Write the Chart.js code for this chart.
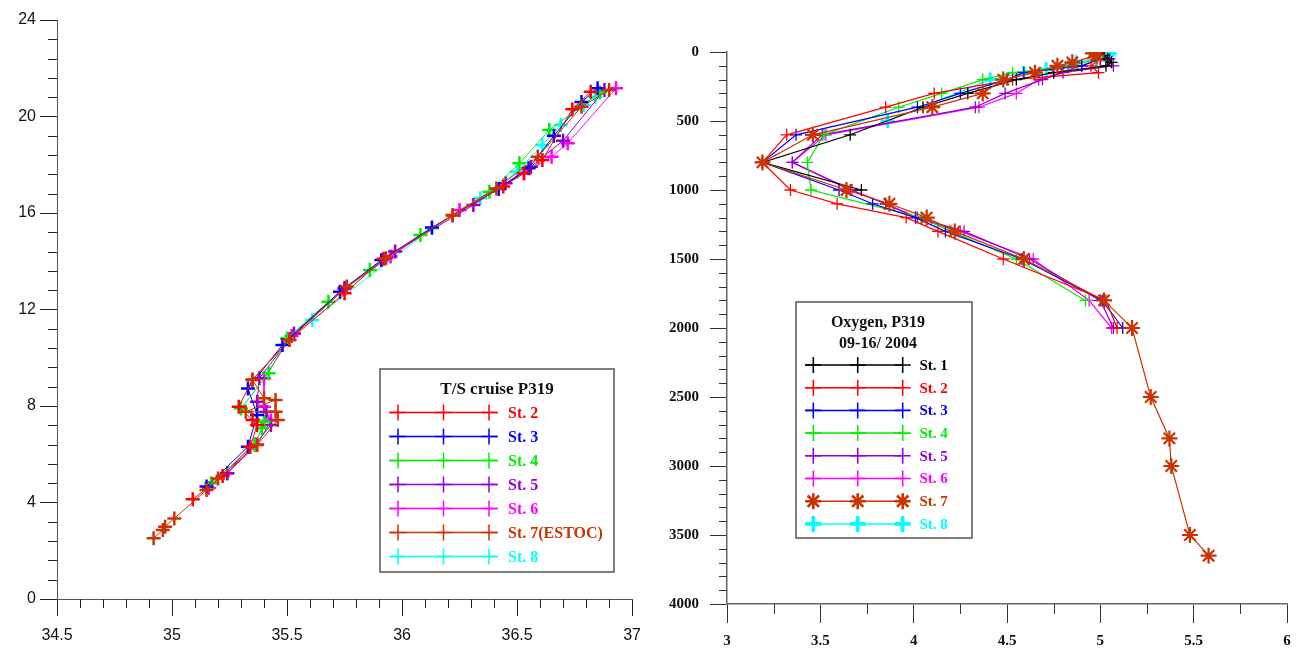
<!DOCTYPE html>
<html>
<head>
<meta charset="utf-8">
<script src="https://cdn.jsdelivr.net/npm/chart.js@4.4.1/dist/chart.umd.min.js"></script>
<style>
    html, body { margin: 0; padding: 0; background: #fff; }
    #painel { position: relative; width: 1302px; height: 648px; }
    .quadro { position: absolute; top: 0; width: 651px; height: 648px; }
    #quadro-ts { left: 0; }
    #quadro-oxi { left: 651px; }
</style>
</head>
<body>
<div id="painel">
    <div class="quadro" id="quadro-ts"><canvas id="grafico-ts"></canvas></div>
    <div class="quadro" id="quadro-oxi"><canvas id="grafico-oxi"></canvas></div>
</div>
<script>
// ---- T/S, cruzeiro P319: salinidade (x) e temperatura (y) por estacao ----
const salEst2  = [36.82, 36.74, 36.61, 36.53, 36.44, 36.22, 35.92, 35.75, 35.51, 35.35, 35.29, 35.35, 35.37, 35.34, 35.22, 35.09];
const tempEst2 = [21.03, 20.30, 18.20, 17.65, 17.10, 15.90, 14.10, 12.67, 10.74, 9.10, 7.97, 7.42, 7.21, 6.30, 5.10, 4.13];
const salEst3  = [36.85, 36.78, 36.66, 36.55, 36.42, 36.13, 35.91, 35.73, 35.48, 35.33, 35.37, 35.33, 35.15];
const tempEst3 = [21.17, 20.60, 19.20, 17.85, 17.00, 15.40, 14.05, 12.74, 10.53, 8.73, 7.63, 6.31, 4.66];
const salEst4  = [36.86, 36.64, 36.51, 36.38, 36.08, 35.86, 35.68, 35.50, 35.42, 35.30, 35.40, 35.39, 35.36, 35.17];
const tempEst4 = [21.00, 19.44, 18.06, 16.88, 15.09, 13.64, 12.32, 10.80, 9.36, 7.90, 7.35, 7.08, 6.40, 4.80];
const salEst5  = [36.88, 36.70, 36.56, 36.45, 36.31, 35.97, 35.75, 35.53, 35.38, 35.37, 35.41, 35.43, 35.36, 35.24];
const tempEst5 = [21.10, 19.00, 17.92, 17.23, 16.33, 14.40, 12.90, 11.01, 9.15, 8.18, 7.76, 7.21, 6.40, 5.21];
const salEst6  = [36.93, 36.72, 36.65, 36.53, 36.25, 35.95, 35.75, 35.52, 35.40, 35.40, 35.43, 35.37, 35.24, 35.16];
const tempEst6 = [21.17, 18.89, 18.33, 17.65, 16.12, 14.20, 12.85, 10.90, 9.15, 7.97, 7.40, 6.40, 5.21, 4.60];
const salEst7  = [36.90, 36.78, 36.59, 36.41, 36.22, 35.93, 35.76, 35.51, 35.35, 35.40, 35.45, 35.32, 35.45, 35.46, 35.37, 35.20, 35.15, 35.01, 34.97, 34.96, 34.92];
const tempEst7 = [21.10, 20.40, 18.33, 17.02, 15.92, 14.12, 12.95, 10.74, 9.08, 8.32, 8.25, 7.76, 7.76, 7.42, 6.38, 5.00, 4.52, 3.34, 3.00, 2.86, 2.52];
const salEst8  = [36.84, 36.79, 36.69, 36.61, 36.50, 36.34, 36.13, 35.61];
const tempEst8 = [20.82, 20.48, 19.65, 18.82, 17.71, 16.61, 15.37, 11.56];

const rotulosTS = ['St. 2', 'St. 3', 'St. 4', 'St. 5', 'St. 6', 'St. 7(ESTOC)', 'St. 8'];
const ticksSal  = [34.5, 35, 35.5, 36, 36.5, 37];
const ticksTemp = [0, 4, 8, 12, 16, 20, 24];

// ---- Oxigenio (x) e profundidade em m (y) por estacao ----
const profEst1 = [0, 25, 50, 75, 100, 150, 200, 300, 400, 600, 800, 1000];
const oxiEst1  = [4.98, 5.02, 5.04, 5.06, 5.03, 4.75, 4.55, 4.29, 4.05, 3.66, 3.19, 3.72];
const profEst2 = [0, 10, 50, 100, 150, 200, 300, 400, 600, 800, 1000, 1100, 1200, 1300, 1500, 1800, 2000];
const oxiEst2  = [4.97, 4.99, 5.00, 4.95, 4.99, 4.53, 4.11, 3.85, 3.32, 3.19, 3.34, 3.59, 3.96, 4.13, 4.48, 5.03, 5.09];
const profEst3 = [0, 50, 100, 150, 200, 300, 400, 600, 800, 1000, 1100, 1200, 1300, 1500, 1800, 2000];
const oxiEst3  = [4.99, 5.00, 4.90, 4.59, 4.50, 4.25, 4.02, 3.37, 3.19, 3.60, 3.78, 4.01, 4.17, 4.58, 5.01, 5.12];
const profEst4 = [0, 50, 100, 150, 200, 300, 400, 600, 800, 1000, 1200, 1300, 1500, 1800];
const oxiEst4  = [5.00, 4.98, 4.85, 4.53, 4.37, 4.15, 3.92, 3.52, 3.43, 3.45, 4.04, 4.20, 4.55, 4.92];
const profEst5 = [0, 50, 100, 150, 200, 300, 400, 600, 800, 1000, 1100, 1200, 1300, 1500, 1800, 2000];
const oxiEst5  = [5.00, 5.05, 5.07, 4.80, 4.69, 4.49, 4.33, 3.51, 3.35, 3.66, 3.85, 4.02, 4.27, 4.62, 5.00, 5.07];
const profEst6 = [0, 50, 100, 200, 300, 400, 600, 800, 1000, 1100, 1200, 1300, 1500, 1800, 2000];
const oxiEst6  = [4.99, 5.00, 4.90, 4.67, 4.55, 4.35, 3.53, 3.35, 3.67, 3.85, 4.01, 4.25, 4.64, 4.94, 5.06];
const profEst7 = [0, 10, 25, 75, 100, 150, 200, 300, 400, 600, 800, 1000, 1100, 1200, 1300, 1500, 1800, 2000, 2500, 2800, 3000, 3500, 3650];
const oxiEst7  = [4.97, 4.96, 4.98, 4.85, 4.77, 4.65, 4.48, 4.37, 4.10, 3.46, 3.19, 3.64, 3.87, 4.07, 4.22, 4.59, 5.02, 5.17, 5.27, 5.37, 5.38, 5.48, 5.58];
const profEst8 = [0, 10, 25, 50, 75, 100, 125, 150, 200, 500];
const oxiEst8  = [5.02, 5.05, 5.04, 4.98, 4.87, 4.83, 4.71, 4.59, 4.41, 3.86];

const rotulosOxi = ['St. 1', 'St. 2', 'St. 3', 'St. 4', 'St. 5', 'St. 6', 'St. 7', 'St. 8'];
const ticksOxi   = [3, 3.5, 4, 4.5, 5, 5.5, 6];
const ticksProf  = [0, 500, 1000, 1500, 2000, 2500, 3000, 3500, 4000];

// cores das estacoes
const COR = {
    st1: '#000000', st2: '#ff0000', st3: '#0000ff', st4: '#00ee00',
    st5: '#9400d3', st6: '#ff00ff', st7: '#cc3300', st8: '#00ffff'
};

const SERIF = '"Liberation Serif", "Times New Roman", serif';
const SANS = '"Liberation Sans", Arial, sans-serif';

function desenharMarca(ctx, estilo, x, y, r, largura, cor) {
    ctx.save();
    ctx.strokeStyle = cor;
    ctx.lineWidth = largura;
    ctx.beginPath();
    ctx.moveTo(x - r, y); ctx.lineTo(x + r, y);
    ctx.moveTo(x, y - r); ctx.lineTo(x, y + r);
    if (estilo === 'star') {
        const d = r * Math.SQRT1_2;
        ctx.moveTo(x - d, y - d); ctx.lineTo(x + d, y + d);
        ctx.moveTo(x - d, y + d); ctx.lineTo(x + d, y - d);
    }
    ctx.stroke();
    ctx.restore();
}

// tiques menores dos eixos (posicao vinda das escalas do grafico)
const tiquesMenores = {
    id: 'tiquesMenores',
    afterDraw(chart, args, o) {
        if (!o || !o.passoX) return;
        const ctx = chart.ctx;
        const area = chart.chartArea;
        const sx = chart.scales.x, sy = chart.scales.y;
        const ehMaior = (v, passo) => Math.abs(v / passo - Math.round(v / passo)) < 1e-6;
        ctx.save();
        ctx.strokeStyle = o.cor;
        ctx.lineWidth = 1;
        ctx.beginPath();
        for (let i = 0; ; i++) {
            const v = sx.min + i * o.passoX;
            if (v > sx.max + 1e-9) break;
            if (ehMaior(v - sx.min, o.maiorX)) continue;
            const px = Math.round(sx.getPixelForValue(v)) + 0.5;
            ctx.moveTo(px, area.bottom);
            ctx.lineTo(px, area.bottom + o.compX);
        }
        for (let i = 0; ; i++) {
            const v = sy.min + i * o.passoY;
            if (v > sy.max + 1e-9) break;
            if (ehMaior(v - sy.min, o.maiorY)) continue;
            const py = Math.round(sy.getPixelForValue(v)) + 0.5;
            ctx.moveTo(area.left - o.compY, py);
            ctx.lineTo(area.left, py);
        }
        ctx.stroke();
        ctx.restore();
    }
};

// caixa de legenda flutuante
const legendaCaixa = {
    id: 'legendaCaixa',
    afterDraw(chart, args, o) {
        if (!o || !o.w) return;
        const ctx = chart.ctx;
        ctx.save();
        ctx.fillStyle = '#ffffff';
        ctx.fillRect(o.x, o.y, o.w, o.h);
        ctx.strokeStyle = '#555555';
        ctx.lineWidth = 1.5;
        ctx.strokeRect(o.x, o.y, o.w, o.h);

        ctx.fillStyle = '#111111';
        ctx.font = o.fonteTitulo;
        ctx.textAlign = 'center';
        ctx.textBaseline = 'middle';
        o.titulo.forEach((t, i) => ctx.fillText(t, o.tituloX, o.tituloY + i * o.tituloPasso));

        ctx.textAlign = 'left';
        ctx.font = o.fonteItem;
        chart.data.datasets.forEach((ds, i) => {
            const y = o.linhaY + i * o.passo;
            ctx.strokeStyle = ds.borderColor;
            ctx.lineWidth = 1.5;
            ctx.beginPath();
            ctx.moveTo(o.amostraX0, y);
            ctx.lineTo(o.amostraX1, y);
            ctx.stroke();
            const larg = o.larguraMarca || ds.pointBorderWidth * 1.2;
            o.marcasX.forEach(mx => desenharMarca(ctx, ds.pointStyle, mx, y, o.raio, larg, ds.borderColor));
            ctx.fillStyle = ds.borderColor;
            ctx.fillText(ds.label, o.textoX, y + 1);
        });
        ctx.restore();
    }
};

class GraficosP319 {
    constructor() {
        this.graficoTS = null;
        this.graficoOxi = null;
        this.init();
    }

    init() {
        Chart.defaults.font.family = SANS;
        Chart.defaults.animation = false;
        this.criarGraficoTS();
        this.criarGraficoOxi();
    }

    montarSerie(xs, ys) {
        return xs.map((v, k) => ({ x: v, y: ys[k] }));
    }

    criarGraficoTS() {
        const series = [
            [salEst2, tempEst2, COR.st2], [salEst3, tempEst3, COR.st3], [salEst4, tempEst4, COR.st4],
            [salEst5, tempEst5, COR.st5], [salEst6, tempEst6, COR.st6], [salEst7, tempEst7, COR.st7],
            [salEst8, tempEst8, COR.st8]
        ];
        const ctx = document.getElementById('grafico-ts').getContext('2d');
        this.graficoTS = new Chart(ctx, {
            type: 'scatter',
            data: {
                datasets: series.map(([s, t, cor], i) => ({
                    label: rotulosTS[i],
                    data: this.montarSerie(s, t),
                    showLine: true,
                    borderColor: cor,
                    backgroundColor: cor,
                    borderWidth: 1,
                    pointStyle: 'cross',
                    pointRadius: 7,
                    pointHoverRadius: 7,
                    pointBorderWidth: 2.5,
                    order: i === 5 ? -1 : i
                }))
            },
            options: {
                responsive: true,
                maintainAspectRatio: false,
                layout: { padding: { top: 20, right: 18, left: 0, bottom: 0 } },
                plugins: {
                    legend: { display: false },
                    tooltip: { enabled: false },
                    tiquesMenores: { passoX: 0.1, maiorX: 0.5, compX: 9, passoY: 0.8, maiorY: 4, compY: 9, cor: '#222' },
                    legendaCaixa: {
                        x: 380, y: 369, w: 234, h: 203,
                        titulo: ['T/S cruise P319'], tituloX: 497, tituloY: 390, tituloPasso: 0,
                        fonteTitulo: 'bold 17px ' + SERIF, fonteItem: 'bold 16px ' + SERIF,
                        linhaY: 412.5, passo: 24,
                        amostraX0: 389, amostraX1: 498, marcasX: [398, 443.5, 489],
                        raio: 8, larguraMarca: 1.5, textoX: 508
                    }
                },
                scales: {
                    x: {
                        type: 'linear',
                        min: ticksSal[0], max: ticksSal[ticksSal.length - 1],
                        afterBuildTicks: s => { s.ticks = ticksSal.map(v => ({ value: v })); },
                        afterFit: s => { s.height = 49; },
                        border: { display: true, color: '#555', width: 1 },
                        grid: { drawOnChartArea: false, drawTicks: true, tickLength: 17, color: '#222' },
                        ticks: { autoSkip: false, maxRotation: 0, padding: 10, color: '#111', font: { size: 16 }, callback: v => String(v) }
                    },
                    y: {
                        type: 'linear',
                        min: ticksTemp[0], max: ticksTemp[ticksTemp.length - 1],
                        afterBuildTicks: s => { s.ticks = ticksTemp.map(v => ({ value: v })); },
                        afterFit: s => { s.width = 57; },
                        border: { display: true, color: '#555', width: 1 },
                        grid: { drawOnChartArea: false, drawTicks: true, tickLength: 17, color: '#222' },
                        ticks: { autoSkip: false, padding: 4, color: '#111', font: { size: 16 }, callback: v => String(v) }
                    }
                }
            },
            plugins: [tiquesMenores, legendaCaixa]
        });
    }

    criarGraficoOxi() {
        const series = [
            [oxiEst1, profEst1, COR.st1, 'cross', 6, 1.3], [oxiEst2, profEst2, COR.st2, 'cross', 6, 1.3],
            [oxiEst3, profEst3, COR.st3, 'cross', 6, 1.3], [oxiEst4, profEst4, COR.st4, 'cross', 6, 1.3],
            [oxiEst5, profEst5, COR.st5, 'cross', 6, 1.3], [oxiEst6, profEst6, COR.st6, 'cross', 6, 1.3],
            [oxiEst7, profEst7, COR.st7, 'star', 8, 2.2], [oxiEst8, profEst8, COR.st8, 'cross', 7, 3]
        ];
        const ctx = document.getElementById('grafico-oxi').getContext('2d');
        this.graficoOxi = new Chart(ctx, {
            type: 'scatter',
            data: {
                datasets: series.map(([o, p, cor, estilo, raio, larg], i) => ({
                    label: rotulosOxi[i],
                    data: this.montarSerie(o, p),
                    showLine: true,
                    borderColor: cor,
                    backgroundColor: cor,
                    borderWidth: 1.2,
                    pointStyle: estilo,
                    pointRadius: raio,
                    pointHoverRadius: raio,
                    pointBorderWidth: larg,
                    order: i === 6 ? -1 : i
                }))
            },
            options: {
                responsive: true,
                maintainAspectRatio: false,
                layout: { padding: { top: 52, right: 15, left: 0, bottom: 0 } },
                plugins: {
                    legend: { display: false },
                    tooltip: { enabled: false },
                    tiquesMenores: { passoX: 0.25, maiorX: 0.5, compX: 10, passoY: 100, maiorY: 500, compY: 8, cor: '#333' },
                    legendaCaixa: {
                        x: 145, y: 302, w: 176, h: 236,
                        titulo: ['Oxygen, P319', '09-16/ 2004'], tituloX: 227, tituloY: 322.5, tituloPasso: 21.6,
                        fonteTitulo: 'bold 16px ' + SERIF, fonteItem: 'bold 15px ' + SERIF,
                        linhaY: 365, passo: 22.7,
                        amostraX0: 154, amostraX1: 252, marcasX: [162.3, 206.7, 251.7],
                        raio: 8, textoX: 268.5
                    }
                },
                scales: {
                    x: {
                        type: 'linear',
                        min: ticksOxi[0], max: ticksOxi[ticksOxi.length - 1],
                        afterBuildTicks: s => { s.ticks = ticksOxi.map(v => ({ value: v })); },
                        afterFit: s => { s.height = 44; },
                        border: { display: true, color: '#666', width: 1.5 },
                        grid: { drawOnChartArea: false, drawTicks: true, tickLength: 19, color: '#333' },
                        ticks: { autoSkip: false, maxRotation: 0, padding: 9, color: '#111', font: { family: SERIF, size: 15, weight: 'bold' }, callback: v => String(v) }
                    },
                    y: {
                        type: 'linear',
                        reverse: true,
                        min: ticksProf[0], max: ticksProf[ticksProf.length - 1],
                        afterBuildTicks: s => { s.ticks = ticksProf.map(v => ({ value: v })); },
                        afterFit: s => { s.width = 76; },
                        border: { display: true, color: '#666', width: 1.5 },
                        grid: { drawOnChartArea: false, drawTicks: true, tickLength: 17, color: '#333' },
                        ticks: { autoSkip: false, padding: 11, color: '#111', font: { family: SERIF, size: 15, weight: 'bold' }, callback: v => String(v) }
                    }
                }
            },
            plugins: [tiquesMenores, legendaCaixa]
        });
    }
}

const graficos = new GraficosP319();
</script>
</body>
</html>
